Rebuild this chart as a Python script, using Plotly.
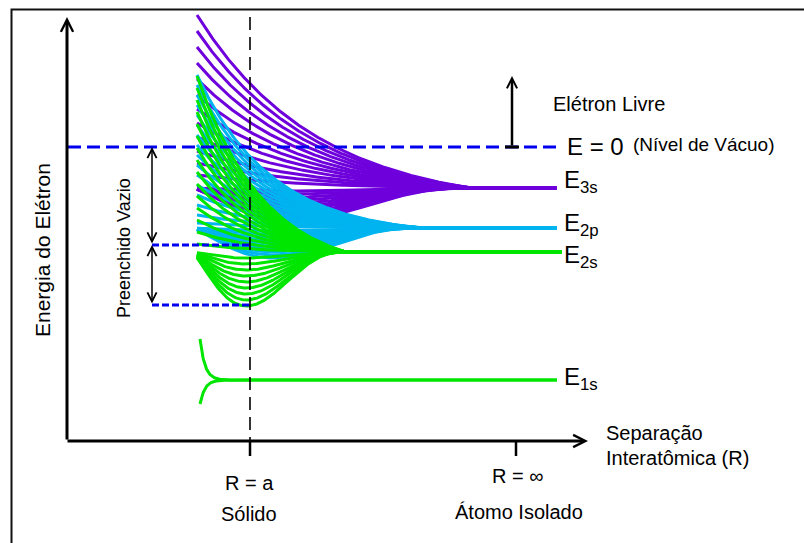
import numpy as np
import plotly.graph_objects as go

# ---------------- data (diagram units) ----------------
# R: interatomic separation along the horizontal axis; E: electron energy, vacuum level E = 0
R_START = 197          # smallest separation drawn for the bands
R_SOLID = 250          # R = a
R_INF = 516            # R = infinity

level_names = ["3s", "2p", "2s", "1s"]
level_E = [-41, -81, -105, -233]          # isolated-atom levels
level_R_merge = [470, 420, 345, 228]      # separation where each band collapses to a level
level_R_end = [557, 557, 562, 557]        # where the drawn level line ends

# band curves that come down from above the level: energy at R_START
s3_upper_E0 = [132, 116, 100, 84, 68, 52, 38, 24, 10, -4, -16, -28]
p2_upper_E0 = [72, 62, 52, 42, 32, 22, 12, 2, -8, -18, -28, -38, -48, -58, -68, -76]
s2_upper_E0 = [71, 59, 47, 35, 23, 11, -1, -13, -25, -37, -49, -61, -73, -85, -97]
# band curves that dip below the level (maximum depth)
s3_lower_depth = [3, 6, 9, 12, 15, 18, 21, 24, 27, 30, 33]
p2_lower_depth = [3, 6, 9, 12, 15, 18, 21, 24, 27, 30]
s2_lower_depth = [6, 12, 18, 24, 30, 36, 42, 48, 54]
# 1s splitting at very small separation: energy at R = 200
s1_split_E0 = [-192, -257]

E_GAP_TOP = 0          # vacuum level
E_FILL_TOP = -98       # top of filled band
E_FILL_BOTTOM = -158   # bottom of filled band

# decay lengths of each band
decay_len = [120, 75, 67]

PURPLE = "#6e00dc"
CYAN = "#00b4f0"
GREEN = "#00e600"
BLUE = "#0000ee"

def decay(R, R0, Rc, L):
    t = R - R0
    T = Rc - R0
    f = (np.exp(-t / L) - np.exp(-T / L)) / (1 - np.exp(-T / L))
    f[t >= T] = 0
    return f

def bump(R, R0, Rc, tp=0.36, a=1.5):
    t = np.clip((R - R0) / (Rc - R0), 0, 1)
    b = a * (1 - tp) / tp
    g = (t / tp) ** a * ((1 - t) / (1 - tp)) ** b
    return g

fig = go.Figure()

def add_line(x, y, color, width=3, dash=None):
    fig.add_trace(go.Scatter(x=x, y=y, mode="lines",
                             line=dict(color=color, width=width, dash=dash),
                             hoverinfo="skip", showlegend=False))

bands = [
    (0, s3_upper_E0, s3_lower_depth, PURPLE),
    (1, p2_upper_E0, p2_lower_depth, CYAN),
    (2, s2_upper_E0, s2_lower_depth, GREEN),
]
for idx, upper, lower, col in bands:
    lv = level_E[idx]
    Rm = level_R_merge[idx]
    R = np.arange(R_START, level_R_end[idx] + 0.5, 1.0)
    for d in lower:
        add_line(R, lv - d * bump(R, R_START - 6, Rm), col)
    for e0 in upper:
        add_line(R, lv + (e0 - lv) * decay(R, R_START, Rm, decay_len[idx]), col)

# 1s level
R1 = np.arange(200, level_R_end[3] + 0.5, 0.5)
for e0 in s1_split_E0:
    add_line(R1, level_E[3] + (e0 - level_E[3]) * np.exp(-(R1 - 200) / 5.0), GREEN)

# R = a dashed vertical
add_line([R_SOLID, R_SOLID], [130, -294], "black", width=1.6, dash="13px,7px")
# vacuum level and band edges
add_line([68, 562], [E_GAP_TOP, E_GAP_TOP], BLUE, width=3, dash="13px,6px")
add_line([152, R_SOLID], [E_FILL_TOP, E_FILL_TOP], BLUE, width=3, dash="7px,3px")
add_line([152, R_SOLID], [E_FILL_BOTTOM, E_FILL_BOTTOM], BLUE, width=3, dash="7px,3px")

# ticks
add_line([R_SOLID, R_SOLID], [-294, -309], "black", width=2.5)
add_line([R_INF, R_INF], [-294, -309], "black", width=2.5)
# T-bar of the free-electron arrow
add_line([505, 519], [0, 0], "black", width=3)

ann = []
def arrow(x, y, ax, ay, w=3, size=0.8, head=5, side="end"):
    ann.append(dict(x=x, y=y, ax=ax, ay=ay, xref="x", yref="y", axref="x", ayref="y",
                    text="", showarrow=True, arrowhead=head, startarrowhead=head,
                    arrowsize=size, startarrowsize=size, arrowwidth=w, arrowcolor="black",
                    arrowside=side))

arrow(67, 130, 67, -294)          # energy axis
arrow(588, -294, 66, -294)        # separation axis
arrow(512, 71, 512, 0, w=2.5)     # free electron
arrow(152, E_GAP_TOP, 152, E_FILL_TOP, w=1.5, size=1.2, side="end+start")
arrow(152, E_FILL_TOP, 152, E_FILL_BOTTOM, w=1.5, size=1.2, side="end+start")

FONT = "Liberation Sans, Arial, sans-serif"
def txt(x, y, s, size=20, xanchor="center", angle=0):
    ann.append(dict(x=x, y=y, xref="x", yref="y", text=s, showarrow=False,
                    xanchor=xanchor, yanchor="middle", textangle=angle,
                    font=dict(family=FONT, size=size, color="black")))

txt(42, -103, "Energia do Elétron", size=21, angle=-90)
txt(124, -101, "Preenchido Vazio", size=18, angle=-90)
txt(551, 43, "Elétron Livre", size=20, xanchor="left")
txt(565, 1, "E = 0", size=24, xanchor="left")
txt(631, 3, "(Nível de Vácuo)", size=19, xanchor="left")
label_E = [-34, -77, -109, -231]
for name, le in zip(level_names, label_E):
    txt(562, le, "E<sub>" + name + "</sub>", size=24, xanchor="left")
txt(249, -336, "R = a", size=20)
txt(249, -367, "Sólido", size=20)
txt(518, -329, "R = ∞", size=20)
txt(519, -365, "Átomo Isolado", size=20)
txt(604, -286, "Separação", size=20, xanchor="left")
txt(604, -311, "Interatômica (R)", size=20, xanchor="left")

fig.update_layout(
    width=804, height=543, margin=dict(l=0, r=0, t=0, b=0),
    paper_bgcolor="white", plot_bgcolor="white",
    xaxis=dict(range=[0, 804], visible=False, fixedrange=True),
    yaxis=dict(range=[-396, 147], visible=False, fixedrange=True),
    annotations=ann,
    shapes=[dict(type="rect", xref="paper", yref="paper",
                 x0=11.5 / 804, x1=1.1, y0=-0.1, y1=1 - 9.5 / 543,
                 line=dict(color="#111", width=2), fillcolor="rgba(0,0,0,0)")],
)
fig.write_html("out.html")
